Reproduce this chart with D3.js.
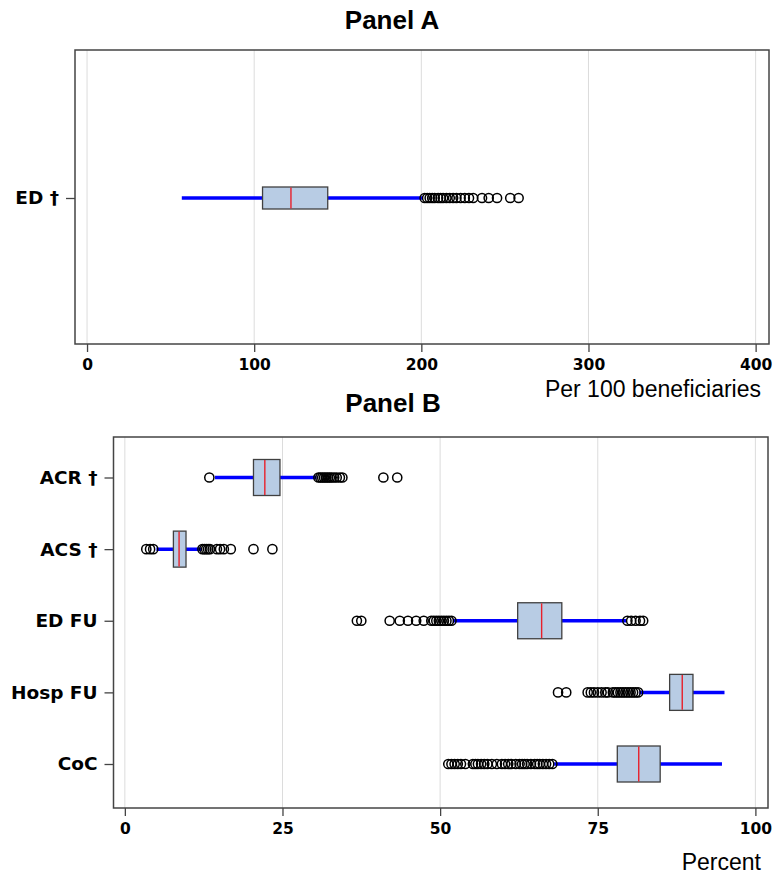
<!DOCTYPE html>
<html>
<head>
<meta charset="utf-8">
<script src="https://cdn.jsdelivr.net/npm/d3@7"></script>
<style>
  body { margin: 0; background: #fff; }
  svg { display: block; }
</style>
</head>
<body>
<svg id="drawing_region"></svg>
<script>
// Panel A: ED visits per 100 beneficiaries
const aCategories = ["ED †"];
const aLow    = [56.7];
const aQ1     = [105];
const aMedian = [122];
const aQ3     = [144];
const aHigh   = [201];
const aOutliers = [
    [202, 203.5, 205, 206.5, 208, 210, 211.5, 213, 215, 217, 219, 221, 223.5, 226, 228.5, 231, 236.3, 240.3, 245.3, 253.2, 258.2]
];
const aTicks = [0, 100, 200, 300, 400];

// Panel B: percent measures
const bCategories = ["ACR †", "ACS †", "ED FU", "Hosp FU", "CoC"];
const bLow    = [14.3, 5.0, 52.0, 81.6, 68.1];
const bQ1     = [20.4, 7.7, 62.3, 86.4, 78.1];
const bMedian = [22.2, 8.6, 66.1, 88.4, 81.5];
const bQ3     = [24.6, 9.7, 69.3, 90.1, 84.9];
const bHigh   = [30.4, 12.1, 79.5, 95.1, 94.7];
const bOutliers = [
    [13.4, 30.7, 31.0, 31.3, 31.6, 31.9, 32.2, 32.5, 32.8, 33.2, 33.6, 34.1, 34.5, 41.0, 43.2],
    [3.4, 4.0, 4.5, 12.3, 12.6, 12.9, 13.2, 13.5, 14.6, 15.1, 15.7, 16.8, 20.4, 23.4],
    [36.8, 37.5, 42.0, 43.6, 44.9, 46.2, 47.4, 48.6, 49.0, 49.4, 49.8, 50.2, 50.6, 51.0, 51.4, 51.8, 79.7, 80.3, 81.0, 81.7, 82.2],
    [68.7, 70.0, 73.4, 73.9, 74.4, 75.0, 75.6, 76.2, 76.6, 77.4, 77.8, 78.2, 78.6, 79.0, 79.4, 79.8, 80.2, 80.6, 81.0, 81.4],
    [51.3, 51.8, 52.3, 52.8, 53.3, 54.0, 55.2, 55.6, 56.0, 56.5, 57.0, 57.5, 58.2, 59.0, 59.8, 60.3, 60.8, 61.3, 62.0, 62.6, 63.0, 63.4, 63.8, 64.4, 65.0, 65.4, 65.8, 66.3, 66.8, 67.3, 67.8]
];
const bTicks = [0, 25, 50, 75, 100];

const svg = d3.select('#drawing_region')
    .attr('width', 774)
    .attr('height', 877);

function buildRows(cats, low, q1, med, q3, high, outs) {
    return cats.map((c, i) => ({
        cat: c, low: low[i], q1: q1[i], med: med[i], q3: q3[i], high: high[i], outliers: outs[i]
    }));
}

function drawPanel(cfg) {
    const g = svg.append('g');
    const x = d3.scaleLinear().domain(cfg.domain).range([cfg.left, cfg.right]);
    const y = d3.scalePoint().domain(cfg.rows.map(d => d.cat)).range(cfg.yRange);

    // title
    g.append('text')
        .attr('x', cfg.titleX).attr('y', cfg.titleY)
        .attr('text-anchor', 'middle')
        .attr('font-family', 'Liberation Sans, Arial, sans-serif')
        .attr('font-weight', 'bold')
        .attr('font-size', 26)
        .text(cfg.title);

    // grid
    g.selectAll('.grid')
        .data(cfg.ticks)
        .enter().append('line')
        .attr('x1', d => x(d)).attr('x2', d => x(d))
        .attr('y1', cfg.top).attr('y2', cfg.bottom)
        .attr('stroke', '#dcdcdc').attr('stroke-width', 1);

    // x axis
    const xaxis = d3.axisBottom(x).tickValues(cfg.ticks).tickSize(8).tickPadding(7).tickSizeOuter(0);
    const xg = g.append('g')
        .attr('transform', `translate(0, ${cfg.bottom})`)
        .call(xaxis);
    xg.select('.domain').remove();
    xg.selectAll('line').attr('stroke', '#444').attr('stroke-width', 1.3);
    xg.selectAll('text')
        .attr('font-family', 'DejaVu Sans, sans-serif')
        .attr('font-weight', 'bold')
        .attr('font-size', 15.5)
        .attr('fill', '#000');

    // y axis
    const yaxis = d3.axisLeft(y).tickSize(9).tickPadding(7).tickSizeOuter(0);
    const yg = g.append('g')
        .attr('transform', `translate(${cfg.left}, 0)`)
        .call(yaxis);
    yg.select('.domain').remove();
    yg.selectAll('line').attr('stroke', '#444').attr('stroke-width', 1.3);
    yg.selectAll('text')
        .attr('font-family', 'DejaVu Sans, sans-serif')
        .attr('font-weight', 'bold')
        .attr('font-size', 18.5)
        .attr('fill', '#000');

    // whiskers
    g.selectAll('.whisker')
        .data(cfg.rows)
        .enter().append('line')
        .attr('x1', d => x(d.low)).attr('x2', d => x(d.high))
        .attr('y1', d => y(d.cat)).attr('y2', d => y(d.cat))
        .attr('stroke', '#0000ff').attr('stroke-width', 3.5);

    // boxes
    g.selectAll('.box')
        .data(cfg.rows)
        .enter().append('rect')
        .attr('x', d => x(d.q1))
        .attr('width', d => x(d.q3) - x(d.q1))
        .attr('y', d => y(d.cat) - cfg.boxH / 2)
        .attr('height', cfg.boxH)
        .attr('fill', '#b8cce4')
        .attr('stroke', '#404040')
        .attr('stroke-width', 1.3);

    // medians
    g.selectAll('.median')
        .data(cfg.rows)
        .enter().append('line')
        .attr('x1', d => x(d.med)).attr('x2', d => x(d.med))
        .attr('y1', d => y(d.cat) - cfg.boxH / 2 + 0.6)
        .attr('y2', d => y(d.cat) + cfg.boxH / 2 - 0.6)
        .attr('stroke', '#e8202a').attr('stroke-width', 1.4);

    // outliers
    const og = g.selectAll('.outs')
        .data(cfg.rows)
        .enter().append('g');
    og.selectAll('circle')
        .data(d => d.outliers.map(v => ({ v: v, cat: d.cat })))
        .enter().append('circle')
        .attr('cx', d => x(d.v))
        .attr('cy', d => y(d.cat))
        .attr('r', 4.6)
        .attr('fill', 'none')
        .attr('stroke', '#000')
        .attr('stroke-width', 1.5);

    // frame
    g.append('rect')
        .attr('x', cfg.left).attr('y', cfg.top)
        .attr('width', cfg.right - cfg.left)
        .attr('height', cfg.bottom - cfg.top)
        .attr('fill', 'none')
        .attr('stroke', '#444')
        .attr('stroke-width', 1.5);

    // axis title
    g.append('text')
        .attr('x', cfg.xTitleX).attr('y', cfg.xTitleY)
        .attr('text-anchor', 'end')
        .attr('font-family', 'Liberation Sans, Arial, sans-serif')
        .attr('font-size', 23)
        .text(cfg.xTitle);
}

drawPanel({
    title: 'Panel A', titleX: 392, titleY: 29,
    rows: buildRows(aCategories, aLow, aQ1, aMedian, aQ3, aHigh, aOutliers),
    domain: [-7.2, 408], ticks: aTicks,
    left: 75, right: 769, top: 50, bottom: 344,
    yRange: [198, 198], boxH: 22,
    xTitle: 'Per 100 beneficiaries', xTitleX: 761, xTitleY: 397
});

drawPanel({
    title: 'Panel B', titleX: 393, titleY: 412,
    rows: buildRows(bCategories, bLow, bQ1, bMedian, bQ3, bHigh, bOutliers),
    domain: [-1.8, 102], ticks: bTicks,
    left: 113.5, right: 768, top: 437, bottom: 808,
    yRange: [477.5, 764], boxH: 36,
    xTitle: 'Percent', xTitleX: 761, xTitleY: 870
});
</script>
</body>
</html>
